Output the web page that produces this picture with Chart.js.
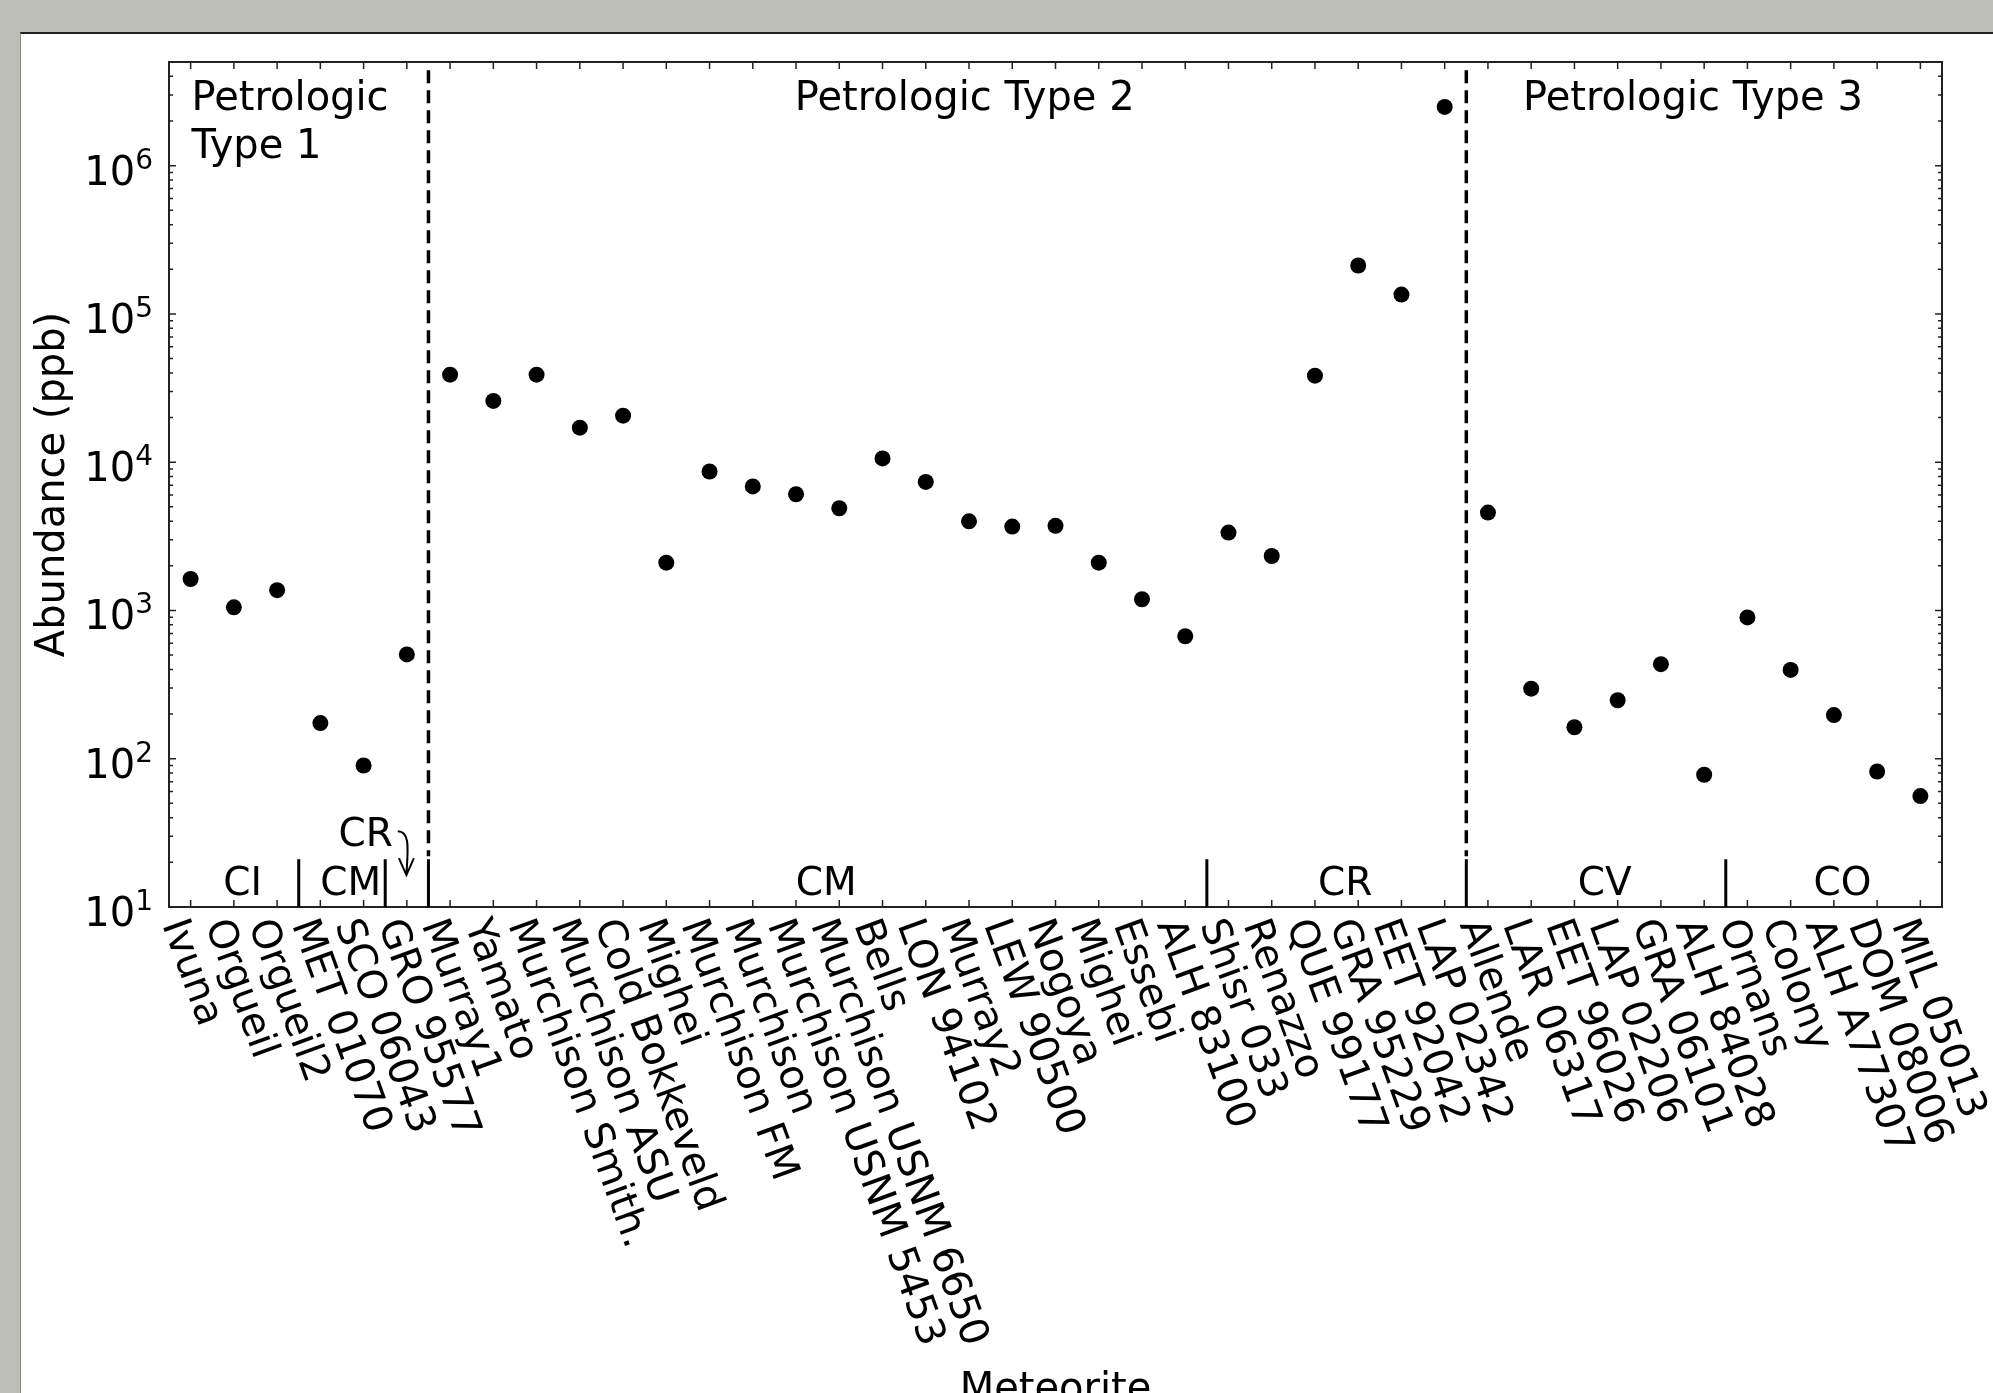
<!DOCTYPE html>
<html>
<head>
<meta charset="utf-8">
<title>Abundance by meteorite</title>
<script src="https://cdn.jsdelivr.net/npm/chart.js@4.4.1/dist/chart.umd.min.js"></script>
<style>
  html, body { margin: 0; padding: 0; overflow: hidden; background: #bbbdb6; }
  #panel { position: absolute; left: 20px; top: 32px; right: -10px; bottom: -10px;
           background: #fff; border-top: 2px solid #222; border-left: 1px solid #8a8a8a; }
  #wrap { position: absolute; left: 0; top: 0; width: 1993px; height: 1393px; }
</style>
</head>
<body>
<div id="panel"></div>
<div id="wrap"><canvas id="chart"></canvas></div>
<script>
// Meteorites along the x axis, in plotting order
const meteorites = ['Ivuna', 'Orgueil', 'Orgueil2', 'MET 01070', 'SCO 06043', 'GRO 95577',
  'Murray1', 'Yamato', 'Murchison Smith.', 'Murchison ASU', 'Cold Bokkeveld', 'Mighei',
  'Murchison FM', 'Murchison', 'Murchison USNM 5453', 'Murchison USNM 6650', 'Bells',
  'LON 94102', 'Murray2', 'LEW 90500', 'Nogoya', 'Mighei', 'Essebi', 'ALH 83100',
  'Shisr 033', 'Renazzo', 'QUE 99177', 'GRA 95229', 'EET 92042', 'LAP 02342',
  'Allende', 'LAR 06317', 'EET 96026', 'LAP 02206', 'GRA 06101', 'ALH 84028',
  'Ornans', 'Colony', 'ALH A77307', 'DOM 08006', 'MIL 05013'];

// Abundance (ppb), one value per meteorite
const abundance = [1630, 1050, 1370, 174, 90, 505,
  38900, 25900, 38900, 17100, 20600, 2100,
  8650, 6860, 6080, 4890, 10600,
  7360, 3990, 3680, 3720, 2100, 1190, 670,
  3350, 2330, 38300, 212000, 135000, 2490000,
  4570, 297, 163, 248, 434, 78,
  897, 397, 197, 82, 56];

// Chondrite groups: name and index of the last meteorite in the group
const groupNames = ['CI', 'CM', 'CR', 'CM', 'CR', 'CV', 'CO'];
const groupLast = [2, 4, 5, 23, 29, 35, 40];

// Petrologic types: index of the last meteorite of each type
const typeLast = [5, 29, 40];

// Decade ticks of the log axis
const yTickValues = [1e1, 1e2, 1e3, 1e4, 1e5, 1e6];

const FONT = '"DejaVu Sans", sans-serif';

// matplotlib-like frame, inward ticks, labels and annotations
const axesPlugin = {
  id: 'axesPlugin',
  afterDraw(chart) {
    const { ctx, chartArea: a } = chart;
    const xs = chart.scales.x;
    const ys = chart.scales.y;
    const X = v => xs.getPixelForValue(v);
    const Y = v => ys.getPixelForValue(v);

    ctx.save();

    // frame
    ctx.strokeStyle = '#222';
    ctx.lineWidth = 2;
    ctx.strokeRect(a.left, a.top, a.right - a.left, a.bottom - a.top);

    // ticks
    ctx.lineWidth = 1.5;
    ctx.beginPath();
    meteorites.forEach((m, i) => {
      const px = X(i);
      ctx.moveTo(px, a.bottom); ctx.lineTo(px, a.bottom - 7);
      ctx.moveTo(px, a.top); ctx.lineTo(px, a.top + 7);
    });
    yTickValues.forEach(v => {
      for (let k = 1; k < 10; k++) {
        const val = v * k;
        if (val >= ys.max) break;
        const py = Y(val);
        const len = k === 1 ? 7 : 4;
        ctx.moveTo(a.left, py); ctx.lineTo(a.left + len, py);
        ctx.moveTo(a.right, py); ctx.lineTo(a.right - len, py);
      }
    });
    ctx.stroke();

    // y tick labels 10^n
    ctx.fillStyle = '#000';
    ctx.textBaseline = 'alphabetic';
    ctx.textAlign = 'right';
    yTickValues.forEach(v => {
      const py = Y(v);
      const exp = String(Math.round(Math.log10(v)));
      ctx.font = '28px ' + FONT;
      const supW = ctx.measureText(exp).width;
      ctx.fillText(exp, a.left - 16, py + 3);
      ctx.font = '40px ' + FONT;
      ctx.fillText('10', a.left - 16 - supW, py + 19);
    });

    // x tick labels, rotated clockwise, anchored at their top-left corner
    ctx.font = '40px ' + FONT;
    ctx.textAlign = 'left';
    ctx.textBaseline = 'top';
    meteorites.forEach((m, i) => {
      ctx.save();
      ctx.translate(X(i), a.bottom + 7);
      ctx.rotate(70 * Math.PI / 180);
      ctx.fillText(m, 0, 0);
      ctx.restore();
    });

    // axis titles
    ctx.textBaseline = 'alphabetic';
    ctx.textAlign = 'center';
    ctx.fillText('Meteorite', (a.left + a.right) / 2, 1401);
    ctx.save();
    ctx.translate(64, (a.top + a.bottom) / 2);
    ctx.rotate(-Math.PI / 2);
    ctx.fillText('Abundance (ppb)', 0, 0);
    ctx.restore();

    // group separators and group names
    ctx.strokeStyle = '#000';
    ctx.lineWidth = 3;
    ctx.font = '39px ' + FONT;
    let first = 0;
    groupNames.forEach((name, g) => {
      const last = groupLast[g];
      if (g < groupNames.length - 1) {
        ctx.beginPath();
        ctx.moveTo(X(last + 0.5), Y(10));
        ctx.lineTo(X(last + 0.5), Y(21));
        ctx.stroke();
      }
      if (last > first) {
        ctx.fillText(name, X((first + last) / 2 + 0.2), Y(12));
      }
      first = last + 1;
    });

    // single CR meteorite gets a label with a curved arrow
    ctx.fillText('CR', X(4.05), Y(25.6));
    ctx.lineWidth = 2;
    ctx.beginPath();
    ctx.moveTo(X(4.79), Y(32.4));
    ctx.bezierCurveTo(X(5.09), Y(32.4), X(5.02), Y(24), X(4.99), Y(16.4));
    ctx.moveTo(X(4.99) - 7.5, Y(16.4) - 17);
    ctx.lineTo(X(4.99), Y(16.4));
    ctx.lineTo(X(4.99) + 7.5, Y(16.4) - 17);
    ctx.stroke();

    // dashed lines between petrologic types
    ctx.lineWidth = 3.5;
    ctx.setLineDash([13, 7]);
    typeLast.slice(0, -1).forEach(last => {
      ctx.beginPath();
      ctx.moveTo(X(last + 0.5), Y(4.4e6));
      ctx.lineTo(X(last + 0.5), Y(22));
      ctx.stroke();
    });
    ctx.setLineDash([]);

    // petrologic type names
    ctx.font = '40px ' + FONT;
    ctx.textAlign = 'left';
    ctx.fillText('Petrologic', X(0.02), Y(2.39e6));
    ctx.fillText('Type 1', X(0.02), Y(1.13e6));
    ctx.textAlign = 'center';
    ctx.fillText('Petrologic Type 2', X(17.9), Y(2.39e6));
    ctx.fillText('Petrologic Type 3', X(34.74), Y(2.39e6));

    ctx.restore();
  }
};

new Chart(document.getElementById('chart'), {
  type: 'scatter',
  data: {
    datasets: [{
      data: abundance.map((v, i) => ({ x: i, y: v })),
      backgroundColor: '#000',
      borderWidth: 0,
      pointRadius: 8,
      pointHoverRadius: 8
    }]
  },
  options: {
    responsive: true,
    maintainAspectRatio: false,
    animation: false,
    events: [],
    layout: { padding: { left: 169, right: 51, top: 62, bottom: 486 } },
    plugins: { legend: { display: false }, tooltip: { enabled: false } },
    scales: {
      x: { type: 'linear', min: -0.5, max: 40.5, display: false },
      y: { type: 'logarithmic', min: 10, max: 5e6, display: false }
    }
  },
  plugins: [axesPlugin]
});
</script>
</body>
</html>
